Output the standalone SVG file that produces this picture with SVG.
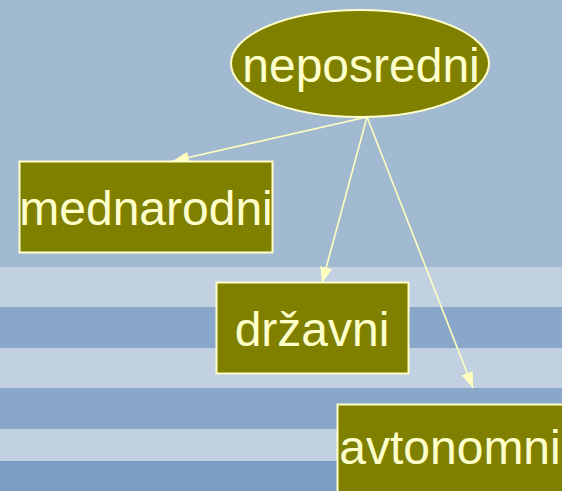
<svg xmlns="http://www.w3.org/2000/svg" width="562" height="491" viewBox="0 0 562 491">
<defs>
<style>
.node{fill:#808000;stroke:#FFFFCC;stroke-width:2}
.lbl{fill:#FFFFCC;font-family:"Liberation Sans",Arial,sans-serif;font-size:48px;text-anchor:middle}
.edge{stroke:#FFFFC0;stroke-width:1.6;fill:none;marker-end:url(#ah)}
</style>
<marker id="ah" viewBox="0 0 16 12" refX="16" refY="6" markerWidth="16" markerHeight="12" markerUnits="userSpaceOnUse" orient="auto">
<path d="M0,0 L16,6 L0,12 z" fill="#FFFFC0"/>
</marker>
</defs>
<g id="background">
<rect x="0" y="0" width="562" height="491" fill="#A2B9D2"/>
<rect x="0" y="267" width="562" height="40" fill="#C1D1E1"/>
<rect x="0" y="307" width="562" height="41" fill="#89A7C8"/>
<rect x="0" y="348" width="562" height="40" fill="#C1D1E1"/>
<rect x="0" y="388" width="562" height="41" fill="#89A7C8"/>
<rect x="0" y="429" width="562" height="32" fill="#C1D1E1"/>
<rect x="0" y="461" width="562" height="30" fill="#7C9DC3"/>
</g>
<g id="connectors">
<line class="edge" x1="367" y1="117" x2="173" y2="161"/>
<line class="edge" x1="367" y1="117" x2="322" y2="283"/>
<line class="edge" x1="367" y1="117" x2="473" y2="388"/>
</g>
<g id="neposredni">
<ellipse class="node" cx="360" cy="63.5" rx="129" ry="53.5"/>
<text class="lbl" x="361" y="82">neposredni</text>
</g>
<g id="mednarodni">
<rect class="node" x="19.5" y="161.5" width="253" height="91"/>
<text class="lbl" x="146" y="225">mednarodni</text>
</g>
<g id="drzavni">
<rect class="node" x="216.5" y="282.5" width="192" height="91"/>
<text class="lbl" x="312" y="346">državni</text>
</g>
<g id="avtonomni">
<rect class="node" x="337.5" y="404.5" width="230" height="95"/>
<text class="lbl" x="450" y="464">avtonomni</text>
</g>
</svg>
